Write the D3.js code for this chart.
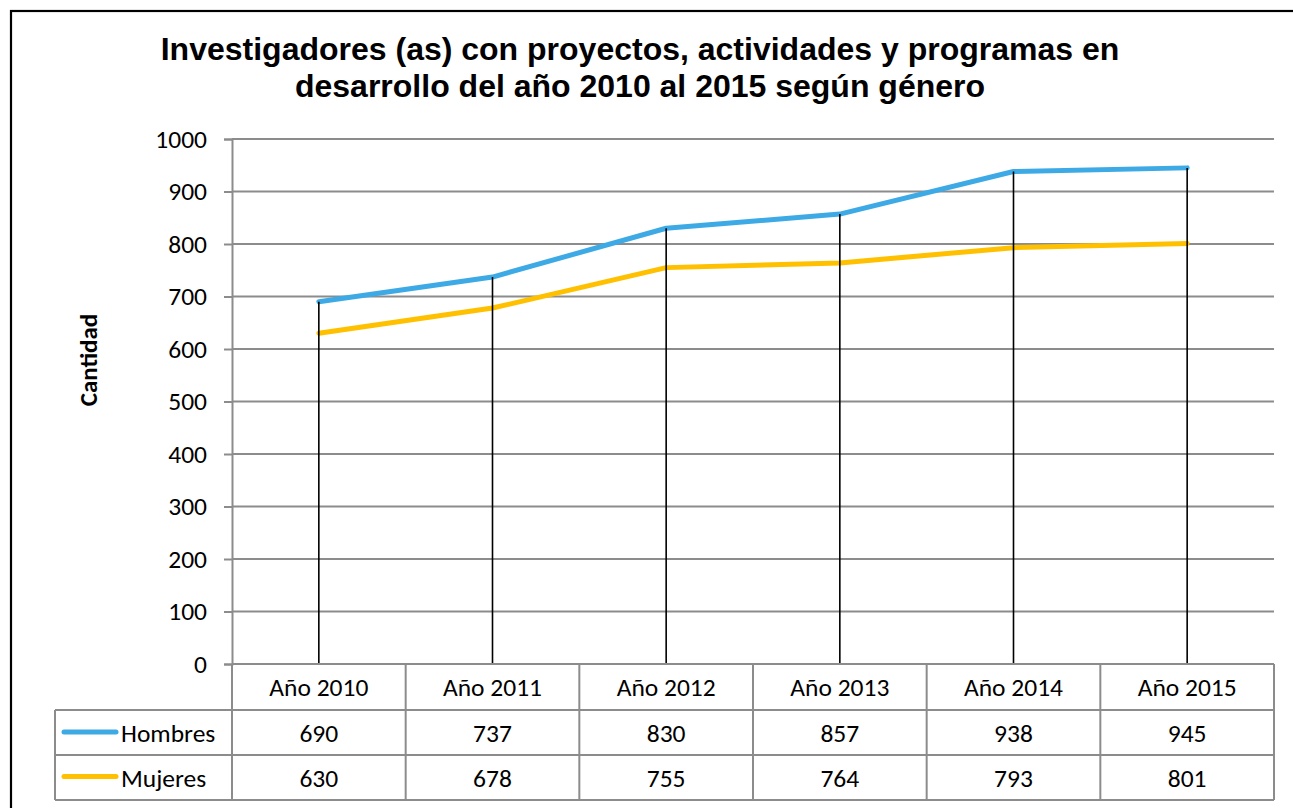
<!DOCTYPE html>
<html><head><meta charset="utf-8">
<script src="https://cdn.jsdelivr.net/npm/d3@7"></script>
<style>html,body{margin:0;padding:0;background:#fff;overflow:hidden}</style>
</head><body>
<svg id="c" width="1293" height="808"></svg>
<script>
const categories = ["Año 2010","Año 2011","Año 2012","Año 2013","Año 2014","Año 2015"];
const hombres = [690, 737, 830, 857, 938, 945];
const mujeres = [630, 678, 755, 764, 793, 801];
const seriesNames = ["Hombres","Mujeres"];
const seriesColors = ["#3DAAE6","#FFC000"];
const yTicks = [0,100,200,300,400,500,600,700,800,900,1000];
const titleLines = ["Investigadores (as) con proyectos, actividades y programas en","desarrollo del año 2010 al 2015 según género"];
const yTitle = "Cantidad";

const series = [hombres, mujeres];
const svg = d3.select("#c");
const L = 232, R = 1274, T = 139, B = 664;
const bodyFont = "Carlito, Lato, 'Open Sans', sans-serif";
const fs = 25.5;

// outer border
svg.append("rect").attr("x",11).attr("y",11).attr("width",1400).attr("height",900)
  .attr("fill","none").attr("stroke","#000").attr("stroke-width",2.2);

// title
svg.append("g").selectAll("text").data(titleLines).join("text")
  .attr("x",640).attr("y",(d,i)=>60+i*37).attr("text-anchor","middle")
  .attr("font-family","'Liberation Sans', Arial, sans-serif").attr("font-weight","bold")
  .attr("font-size",32).attr("fill","#000").text(d=>d);

const x = d3.scaleBand().domain(categories).range([L,R]).padding(0);
const y = d3.scaleLinear().domain([0,1000]).range([B,T]);

// gridlines
svg.append("g").selectAll("line").data(yTicks).join("line")
  .attr("x1",L).attr("x2",R).attr("y1",d=>y(d)).attr("y2",d=>y(d))
  .attr("stroke","#8c8c8c").attr("stroke-width",2);

// y axis
const yAxis = svg.append("g").attr("transform",`translate(${L},0)`)
  .call(d3.axisLeft(y).tickValues(yTicks).tickSize(8).tickPadding(17).tickFormat(d3.format("d")));
yAxis.select(".domain").attr("stroke","#8c8c8c").attr("stroke-width",2);
yAxis.selectAll(".tick line").attr("stroke","#8c8c8c").attr("stroke-width",2);
yAxis.selectAll(".tick text").attr("font-family",bodyFont).attr("font-size",fs).attr("fill","#000");

// y title
svg.append("text").attr("transform","translate(97,360) rotate(-90)")
  .attr("text-anchor","middle").attr("font-family",bodyFont).attr("font-weight","bold")
  .attr("font-size",25).attr("fill","#000").text(yTitle);

// series lines
const line = d3.line().x((d,i)=>x(categories[i])+x.bandwidth()/2).y(d=>y(d));
svg.append("g").selectAll("path").data(series).join("path")
  .attr("d",d=>line(d)).attr("fill","none")
  .attr("stroke",(d,i)=>seriesColors[i]).attr("stroke-width",5)
  .attr("stroke-linejoin","round").attr("stroke-linecap","round");

// drop lines
svg.append("g").selectAll("line").data(categories).join("line")
  .attr("x1",d=>x(d)+x.bandwidth()/2).attr("x2",d=>x(d)+x.bandwidth()/2)
  .attr("y1",(d,i)=>y(Math.max(hombres[i],mujeres[i]))).attr("y2",B)
  .attr("stroke","#000").attr("stroke-width",1.6);

// data table
const tg = svg.append("g");
const gc = "#8c8c8c";
tg.append("line").attr("x1",L).attr("x2",R).attr("y1",B).attr("y2",B).attr("stroke",gc).attr("stroke-width",2);
[710,755,800].forEach(v=>tg.append("line").attr("x1",55).attr("x2",R).attr("y1",v).attr("y2",v).attr("stroke",gc).attr("stroke-width",2));
const vx = categories.map(c=>x(c)).concat([R]);
vx.forEach(v=>tg.append("line").attr("x1",v).attr("x2",v).attr("y1",B).attr("y2",800).attr("stroke",gc).attr("stroke-width",2));
tg.append("line").attr("x1",55).attr("x2",55).attr("y1",710).attr("y2",800).attr("stroke",gc).attr("stroke-width",2);

// category labels
tg.selectAll("text.cat").data(categories).join("text").attr("class","cat")
  .attr("x",d=>x(d)+x.bandwidth()/2).attr("y",696).attr("text-anchor","middle")
  .attr("font-family",bodyFont).attr("font-size",fs).attr("fill","#000").text(d=>d);

series.forEach((s,si)=>{
  const cy = 742 + si*44.5;
  tg.append("g").selectAll("text").data(s).join("text")
    .attr("x",(d,i)=>x(categories[i])+x.bandwidth()/2).attr("y",cy).attr("text-anchor","middle")
    .attr("font-family",bodyFont).attr("font-size",fs).attr("fill","#000").text(d=>d);
  tg.append("line").attr("x1",64).attr("x2",116).attr("y1",cy-10).attr("y2",cy-10)
    .attr("stroke",seriesColors[si]).attr("stroke-width",5).attr("stroke-linecap","round");
  tg.append("text").attr("x",121).attr("y",cy).attr("font-family",bodyFont)
    .attr("font-size",fs).attr("fill","#000").text(seriesNames[si]);
});
</script>
</body></html>
